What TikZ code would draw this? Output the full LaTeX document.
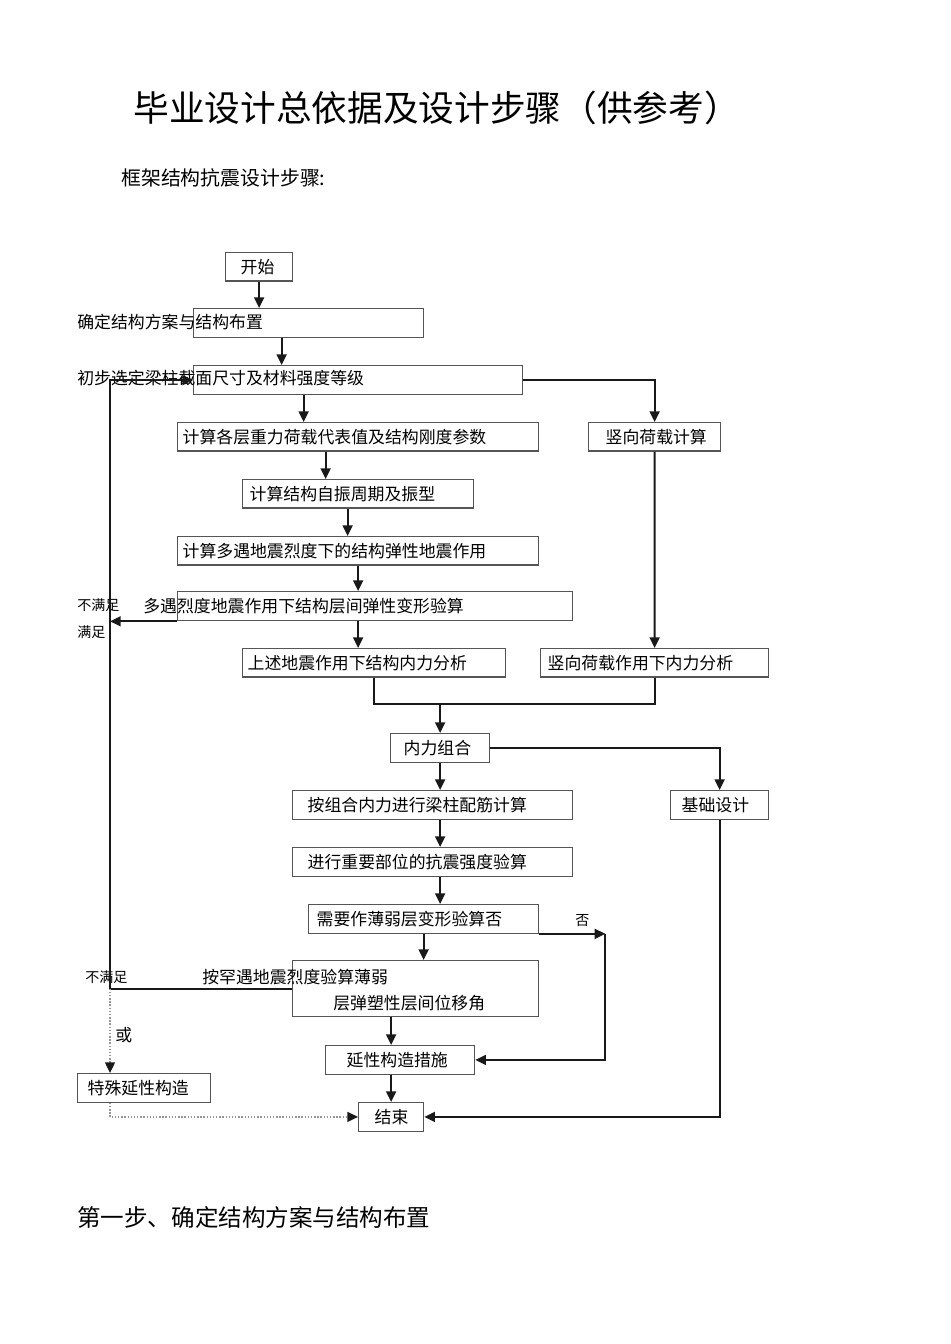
\documentclass[tikz,border=0pt]{standalone}
\usepackage{fontspec}
\usepackage{xcolor}
\usepackage{tikz}
\usetikzlibrary{arrows.meta, calc}
\newfontfamily\cjk{Noto Sans CJK SC}
\definecolor{BoxGray}{RGB}{85,85,85}
\definecolor{LineBlack}{RGB}{25,25,25}
\definecolor{DotGray}{RGB}{150,150,150}

\begin{document}
\begin{tikzpicture}[
  x=0.02cm, y=-0.02cm,
  font=\cjk\fontsize{9.6pt}{11pt}\selectfont,
  box/.style={rectangle, draw=BoxGray, line width=0.75pt, anchor=north west,
              minimum height=0.57cm, inner ysep=0pt, align=left},
  bare/.style={rectangle, draw=BoxGray, line width=0.75pt, anchor=north west},
  txt/.style={anchor=west, inner sep=0pt},
  note/.style={txt, font=\cjk\fontsize{8pt}{9pt}\selectfont},
  arrow/.style={-{Triangle[length=6pt, width=5.6pt]}, LineBlack, line width=1.05pt},
  line/.style={LineBlack, line width=1.05pt},
  dotarrow/.style={-{Triangle[length=6pt, width=5.6pt, color=LineBlack]}, densely dotted,
                   DotGray, line width=0.8pt}
]

\useasboundingbox (0,0) rectangle (950,1344);

% Headings
\node[txt, font=\cjk\fontsize{20.3pt}{24pt}\selectfont] (title) at (133,108) {毕业设计总依据及设计步骤（供参考）};
\node[txt, font=\cjk\fontsize{11.3pt}{13pt}\selectfont] (subtitle) at (121,178) {框架结构抗震设计步骤:};

% Seismic column
\node[box, text width=0.74cm, inner xsep=0.30cm] (start) at (225,252) {开始};
\node[bare, minimum width=4.60cm, minimum height=0.58cm] (plan) at (193,308) {};
\node[txt] (plantext) at (77,322) {确定结构方案与结构布置};
\node[bare, minimum width=6.58cm, minimum height=0.58cm] (sect) at (193,365) {};
\node[txt] (secttext) at (77,378) {初步选定梁柱截面尺寸及材料强度等级};
\node[box, text width=7.02cm, inner xsep=0.10cm] (grav) at (177,422) {计算各层重力荷载代表值及结构刚度参数};
\node[box, text width=4.34cm, inner xsep=0.14cm] (mode) at (242,479) {计算结构自振周期及振型};
\node[box, text width=7.02cm, inner xsep=0.10cm] (eqk) at (177,536) {计算多遇地震烈度下的结构弹性地震作用};
\node[bare, minimum width=7.90cm, minimum height=0.58cm] (drift) at (177,591) {};
\node[txt] (drifttext) at (143,606) {多遇烈度地震作用下结构层间弹性变形验算};
\node[box, text width=5.06cm, inner xsep=0.10cm] (eforce) at (242,648) {上述地震作用下结构内力分析};

% Gravity column
\node[box, text width=1.96cm, inner xsep=0.34cm] (vert) at (588,422) {竖向荷载计算};
\node[box, text width=4.28cm, inner xsep=0.14cm] (vforce) at (540,648) {竖向荷载作用下内力分析};

% Design
\node[box, text width=1.46cm, inner xsep=0.26cm] (comb) at (390,733) {内力组合};
\node[box, text width=5.00cm, inner xsep=0.30cm] (rebar) at (292,790) {按组合内力进行梁柱配筋计算};
\node[box, text width=1.52cm, inner xsep=0.22cm] (found) at (670,790) {基础设计};
\node[box, text width=5.00cm, inner xsep=0.30cm] (check) at (292,847) {进行重要部位的抗震强度验算};
\node[box, text width=4.28cm, inner xsep=0.16cm] (weak) at (308,904) {需要作薄弱层变形验算否};
\node[bare, minimum width=4.92cm, minimum height=1.12cm] (plast) at (292,960) {};
\node[txt] (plasttext) at (202,977) {按罕遇地震烈度验算薄弱};
\node[txt] (plasttext2) at (333,1003) {层弹塑性层间位移角};
\node[box, text width=2.14cm, inner xsep=0.42cm] (duct) at (325,1045) {延性构造措施};
\node[box, text width=2.26cm, inner xsep=0.20cm] (spec) at (77,1073) {特殊延性构造};
\node[box, text width=0.66cm, inner xsep=0.32cm] (end) at (358,1102) {结束};

% Labels
\node[note] (fail1) at (77,605) {不满足};
\node[note] (pass1) at (77,632) {满足};
\node[note] (fail2) at (85,977) {不满足};
\node[note] (nolabel) at (575,921) {否};
\node[txt] (orlabel) at (115,1035) {或};

% Helper points
\coordinate (loop) at ($(sect.west)+(-83,0)$);
\coordinate (join) at ($(comb.north)+(0,-29)$);
\coordinate (no) at ($(weak.south east)+(66,0)$);

% Arrows, seismic column
\draw[arrow] (start.south) -- (start.south |- plan.north);
\draw[arrow] ($(plan.south)+(-27,0)$) coordinate (a1) -- (a1 |- sect.north);
\draw[arrow] ($(sect.south)+(-54.5,0)$) coordinate (a2) -- (a2 |- grav.north);
\draw[arrow] ($(grav.south)+(-32.5,0)$) coordinate (a3) -- (a3 |- mode.north);
\draw[arrow] ($(mode.south)+(-10.5,0)$) coordinate (a4) -- (a4 |- eqk.north);
\draw[arrow] (eqk.south) -- (eqk.south |- drift.north);
\draw[arrow] (eqk.south |- drift.south) -- (eqk.south |- eforce.north);

% Arrows, gravity column
\draw[arrow] (sect.east) -| (vert.north);
\draw[arrow] (vert.south) -- (vforce.north);
\draw[line] (eforce.south) |- (join) -| (vforce.south);
\draw[arrow] (join) -- (comb.north);

% Arrows, design
\draw[arrow] (comb.east) -| (found.north);
\draw[arrow] (comb.south) -- (comb.south |- rebar.north);
\draw[arrow] (comb.south |- rebar.south) -- (comb.south |- check.north);
\draw[arrow] (comb.south |- check.south) -- (comb.south |- weak.north);
\draw[arrow] (weak.south) -- (weak.south |- plast.north);
\draw[arrow] (weak.south east) -- (no);
\draw[arrow] (no) |- (duct.east);
\draw[arrow] (end.north |- plast.south) -- (end.north |- duct.north);
\draw[arrow] (end.north |- duct.south) -- (end.north);
\draw[arrow] (found.south) |- (end.east);

% Feedback
\draw[arrow] (plast.west) -| (loop) -- (sect.west);
\draw[arrow] (drift.south west) -- (drift.south west -| loop);
\draw[dotarrow] (plast.west -| loop) -- (loop |- spec.north);
\draw[dotarrow] (loop |- spec.south) |- (end.west);

% Closing heading
\node[txt, font=\cjk\fontsize{13.4pt}{16pt}\selectfont] (step1) at (77,1217) {第一步、确定结构方案与结构布置};

\end{tikzpicture}
\end{document}
